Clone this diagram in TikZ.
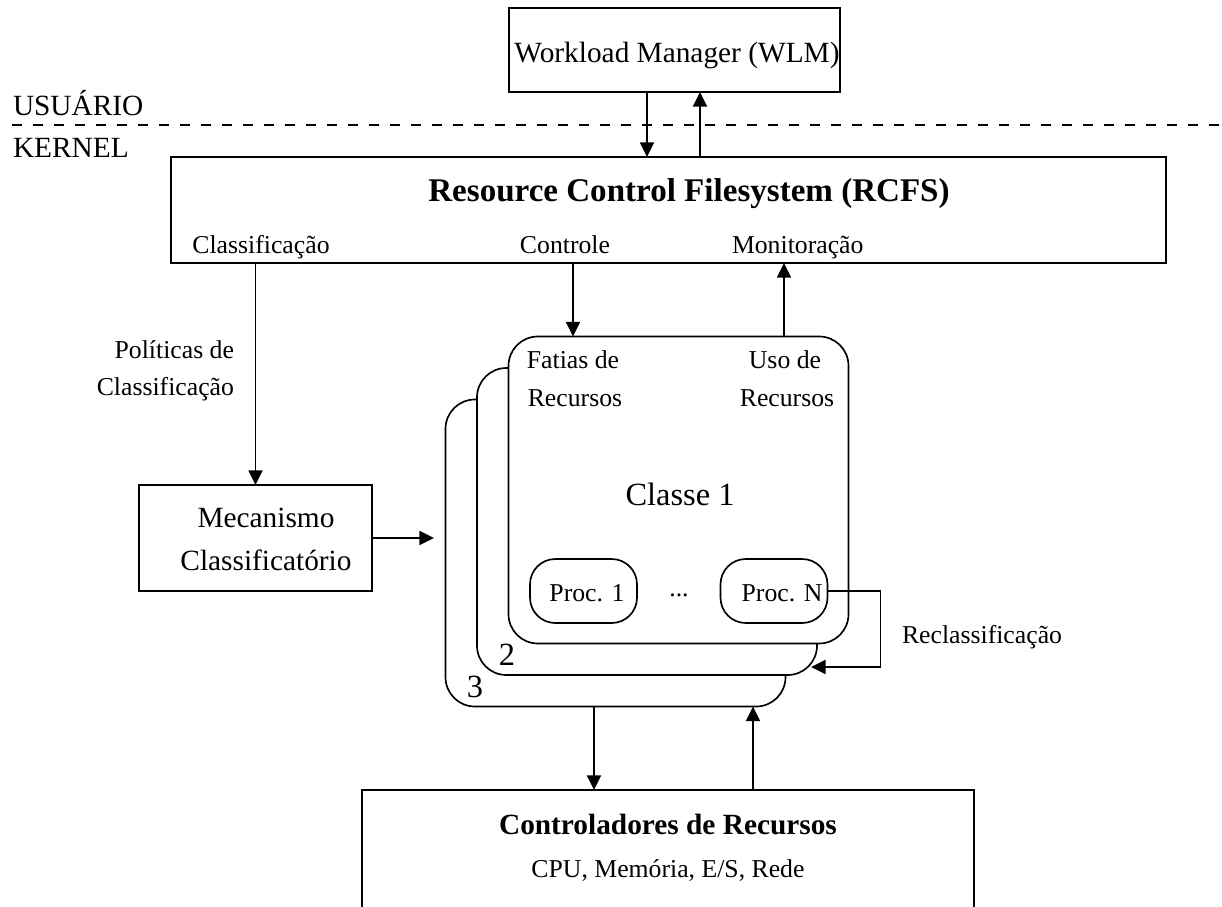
\documentclass[tikz,border=0pt]{standalone}
\usepackage{fontspec}
\setmainfont{Liberation Serif}
\usetikzlibrary{arrows.meta}
\begin{document}
\begin{tikzpicture}[x=0.75pt,y=-0.75pt,
  line width=1.25pt,
  box/.style={draw, rectangle, inner sep=0pt, outer sep=0pt, fill=white},
  rbox/.style={box, rounded corners=22pt},
  pbox/.style={box, rounded corners=19pt, minimum width=80.25pt, minimum height=48pt},
  cls/.style={rbox, minimum width=255pt, minimum height=230.25pt},
  txt/.style={inner sep=0pt, outer sep=0pt, anchor=base},
  small/.style={txt, font=\fontsize{19.3pt}{23pt}\selectfont},
  mid/.style={txt, font=\fontsize{22pt}{26pt}\selectfont},
  big/.style={txt, font=\fontsize{24.3pt}{29pt}\selectfont},
  title/.style={txt, font=\fontsize{24.8pt}{30pt}\selectfont\bfseries},
  subtitle/.style={txt, font=\fontsize{22pt}{26pt}\selectfont\bfseries},
  arr/.style={-{Triangle[length=11pt,width=10.5pt]}},
  layer/.style={line width=1.9pt, dash pattern=on 7.5pt off 8.25pt}]

\useasboundingbox (0,0) rectangle (1222,907);
\clip (0,0) rectangle (1222,907);

% user / kernel boundary
\coordinate (sepL) at (12,125);
\coordinate (sepR) at (1222,125);
\draw[layer] (sepL) -- (sepR);
\node[mid, anchor=base west] (usr) at (13,115) {USUÁRIO};
\node[mid, anchor=base west] (krn) at (13,157) {KERNEL};

% main boxes
\node[box, minimum width=248.25pt, minimum height=63pt] (wlm) at (674.5,50) {};
\node[mid] (wlmT) at (677,62) {Workload Manager (WLM)};

\node[box, minimum width=746.25pt, minimum height=79.5pt] (rcfs) at (668.5,210) {};
\node[title] (rcfsT) at (689,201) {Resource Control Filesystem (RCFS)};
\node[small] (lClass) at (261,253) {Classificação};
\node[small] (lCtrl) at (565,253) {Controle};
\node[small, anchor=base west] (lMon) at (732,253) {Monitoração};

\node[box, minimum width=174.75pt, minimum height=79.5pt] (mech) at (255.5,538) {};
\node[mid] (mech1) at (266,527) {Mecanismo};
\node[mid] (mech2) at (266,570) {Classificatório};

\node[small, anchor=base east] (pol1) at (234,358) {Políticas de};
\node[small, anchor=base east] (pol2) at (234,395) {Classificação};

% stacked classes
\node[cls] (c3) at (615.5,553) {};
\node[big] (n3) at (475,697) {3};
\node[cls] (c2) at (647,521.5) {};
\node[big] (n2) at (507,665) {2};
\node[cls] (c1) at (678.5,490) {};

\node[small] (fat1) at (573,368) {Fatias de};
\node[small] (fat2) at (575,406) {Recursos};
\node[small] (uso1) at (785,368) {Uso de};
\node[small] (uso2) at (787,406) {Recursos};
\node[big] (c1T) at (680,505) {Classe 1};

\node[pbox] (p1) at (583.5,591) {};
\node[small] (p1T) at (587,601) {Proc. 1};
\node[small] (dots) at (679,596) {...};
\node[pbox] (pN) at (774,591) {};
\node[small] (pNT) at (782,601) {Proc. N};

\node[small, anchor=base west] (recl) at (902,643) {Reclassificação};

% resource controllers (runs past the lower edge)
\node[box, minimum width=459pt, minimum height=150pt, anchor=north] (ctrl) at (668,790) {};
\node[subtitle] (ctrlT) at (668,834) {Controladores de Recursos};
\node[small] (ctrlS) at (668,877) {CPU, Memória, E/S, Rede};

% arrow positions
\coordinate (xd) at (647,0);
\coordinate (xu) at (700,0);
\coordinate (xc) at (573,0);
\coordinate (xm) at (784,0);
\coordinate (xbd) at (594,0);
\coordinate (xbu) at (753,0);
\coordinate (stackIn) at (434,0);
\coordinate (reclIn) at (811,667);

% connectors
\draw[arr] (wlm.south -| xd) -- (rcfs.north -| xd);
\draw[arr] (rcfs.north -| xu) -- (wlm.south -| xu);
\draw[arr] (rcfs.south -| mech.north) -- (mech.north);
\draw[arr] (rcfs.south -| xc) -- (c1.north -| xc);
\draw[arr] (c1.north -| xm) -- (rcfs.south -| xm);
\draw[arr] (mech.east) -- (mech.east -| stackIn);
\draw[arr] (pN.east) -- ++(53,0) |- (reclIn);
\draw[arr] (c3.south -| xbd) -- (ctrl.north -| xbd);
\draw[arr] (ctrl.north -| xbu) -- (c3.south -| xbu);
\end{tikzpicture}
\end{document}
